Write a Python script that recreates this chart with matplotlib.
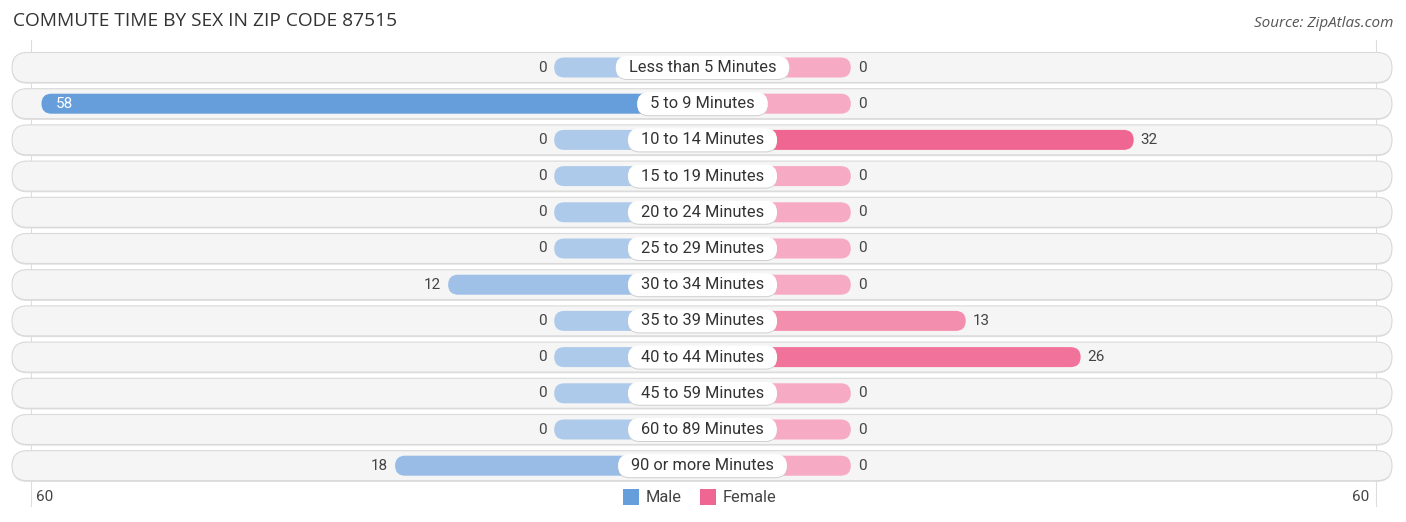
import matplotlib
matplotlib.use("Agg")
import matplotlib.pyplot as plt
from matplotlib.patches import FancyBboxPatch
import numpy as np

# ---- data ----
categories = ["Less than 5 Minutes", "5 to 9 Minutes", "10 to 14 Minutes", "15 to 19 Minutes",
              "20 to 24 Minutes", "25 to 29 Minutes", "30 to 34 Minutes", "35 to 39 Minutes",
              "40 to 44 Minutes", "45 to 59 Minutes", "60 to 89 Minutes", "90 or more Minutes"]
male = [0, 58, 0, 0, 0, 0, 12, 0, 0, 0, 0, 18]
female = [0, 0, 32, 0, 0, 0, 0, 13, 26, 0, 0, 0]
axis_max = 60
title = "COMMUTE TIME BY SEX IN ZIP CODE 87515"
source = "Source: ZipAtlas.com"

# ---- layout (pixel geometry) ----
W, H = 1406, 522
CX = 702.5            # center px
PXU = 8.84            # px per data unit (x)
ROW0 = 67.5           # first row center px
STEP = 36.2           # px per row
STUB = 148.3 / PXU    # base stub length under the label

fig = plt.figure(figsize=(W / 100, H / 100), dpi=100)
ax = fig.add_axes([0, 0, 1, 1])
ax.set_xlim(-CX / PXU, (W - CX) / PXU)
ax.set_ylim((H - ROW0) / STEP, -ROW0 / STEP)
ax.axis("off")

aspect = PXU / STEP

def px_x(p):
    return (p - CX) / PXU

def pill(x0, x1, yc, h_px, fc, ec="none", lw=0, z=1):
    h = h_px / STEP
    r = (h_px / 2) / PXU
    r = min(r, (x1 - x0) / 2)
    p = FancyBboxPatch((x0, yc - h / 2), x1 - x0, h,
                       boxstyle=f"round,pad=0,rounding_size={r}",
                       mutation_aspect=aspect, fc=fc, ec=ec, lw=lw, zorder=z)
    ax.add_patch(p)

def mix(c0, c1, t):
    return tuple((a + (b - a) * t) / 255 for a, b in zip(c0, c1))

M_LIGHT, M_DARK = (174, 202, 235), (102, 157, 219)
F_LIGHT, F_DARK = (247, 170, 195), (240, 102, 146)

# guide lines
for xp in (30.5, 1376.5):
    ax.plot([px_x(xp)] * 2, [-0.5 - 0.25, len(categories) - 0.5 + 0.6], color="#dddddd", lw=0.8, zorder=0)

FONT = "Roboto"
NUM_FS = 11
mmax = max(male)
fmax = max(female)
label_texts = []
for i, (cat, m, f) in enumerate(zip(categories, male, female)):
    # row background with subtle shadow
    pill(px_x(12), px_x(1392), i + 1.2 / STEP, 30, "#e0e0e0", z=1)
    pill(px_x(12), px_x(1392), i, 30, "#f5f5f5", ec="#d9d9d9", lw=0.8, z=2)
    # male bar
    mc = mix(M_LIGHT, M_DARK, (m / mmax) if mmax else 0)
    pill(-(STUB + m), 0, i, 20, mc, z=3)
    # female bar
    fc = mix(F_LIGHT, F_DARK, (f / fmax) if fmax else 0)
    pill(0, STUB + f, i, 20, fc, z=3)
    # category label
    t = ax.text(0, i, cat, ha="center", va="center", fontsize=11.8, family=FONT,
                color="#333333", zorder=6)
    label_texts.append(t)
    # value labels
    if m > 40:
        ax.text(-(STUB + m) + 14 / PXU, i, str(m), ha="left", va="center", fontsize=NUM_FS,
                family=FONT, color="white", zorder=6)
    else:
        ax.text(-(STUB + m) - 7 / PXU, i, str(m), ha="right", va="center", fontsize=NUM_FS,
                family=FONT, color="#444444", zorder=6)
    ax.text(STUB + f + 7 / PXU, i, str(f), ha="left", va="center", fontsize=NUM_FS,
            family=FONT, color="#444444", zorder=6)

# label pills sized to text
fig.canvas.draw()
renderer = fig.canvas.get_renderer()
for txt in label_texts:
    bb = txt.get_window_extent(renderer=renderer)
    w = bb.width + 26
    yc = txt.get_position()[1]
    pill(-w / 2 / PXU, w / 2 / PXU, yc + 1.0 / STEP, 23, "#d0d0d0", z=4)
    pill(-w / 2 / PXU, w / 2 / PXU, yc, 23, "white", z=5)

# axis labels
yl = (497 - ROW0) / STEP
ax.text(px_x(45), yl, str(axis_max), ha="center", va="center", fontsize=NUM_FS, family=FONT, color="#444444")
ax.text(px_x(1361), yl, str(axis_max), ha="center", va="center", fontsize=NUM_FS, family=FONT, color="#444444")

# legend
sq = 16
for xs, col, lab in ((623, (102 / 255, 157 / 255, 219 / 255), "Male"),
                     (700, (240 / 255, 102 / 255, 146 / 255), "Female")):
    ax.add_patch(plt.Rectangle((px_x(xs), yl - sq / 2 / STEP), sq / PXU, sq / STEP,
                               fc=col, ec="none", zorder=3))
    ax.text(px_x(xs + sq + 7), yl, lab, ha="left", va="center", fontsize=11.8, family=FONT, color="#444444")

# title / source
fig.text(13 / W, 1 - 21 / H, title, ha="left", va="center", fontsize=13.8, family="Open Sans",
         color="#333333")
fig.text(1393 / W, 1 - 24 / H, source, ha="right", va="center", fontsize=11, family="Open Sans",
         style="italic", color="#555555")

fig.savefig("out.png", dpi=100)
